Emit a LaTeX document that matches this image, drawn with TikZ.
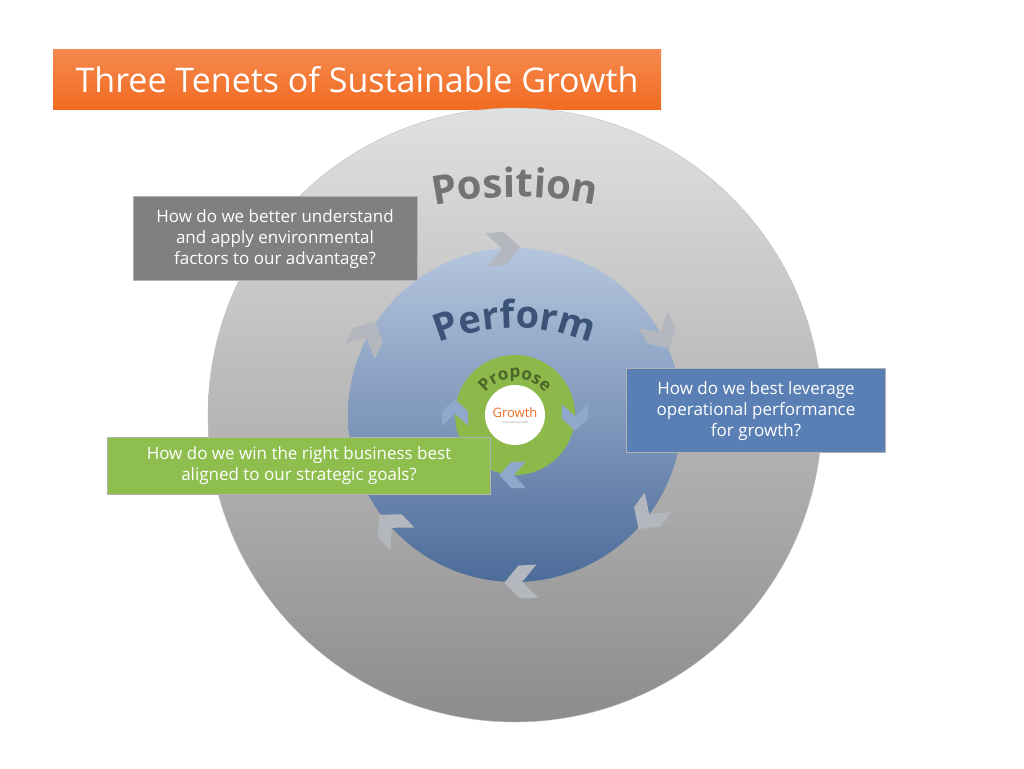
\documentclass[tikz,border=0pt]{standalone}
\usepackage{fontspec}
\setmainfont{Open Sans}
\usetikzlibrary{decorations.text,calc}
\definecolor{titleor}{HTML}{F26B21}
\definecolor{qgrey}{HTML}{808080}
\definecolor{qblue}{HTML}{5A7FB5}
\definecolor{qgreen}{HTML}{8DBE4E}
\definecolor{ringgreen}{HTML}{8CB94A}
\definecolor{chevgrey}{HTML}{B4B8BE}
\definecolor{chevblue}{HTML}{8FA8CC}
\tikzset{
  question/.style={draw=white!70!black, line width=1pt, text=white, align=center,
    font=\fontsize{17}{21}\selectfont, inner sep=0pt},
  arctext/.style={decorate, decoration={text along path, text align=center, text={#1}}},
  chev/.pic={\fill[pic actions] (-9,11) -- (3,11) -- (13,0) -- (3,-11) -- (-9,-11) -- (1,0) -- cycle;}
}
\begin{document}
\begin{tikzpicture}[x=1pt,y=1pt]
\useasboundingbox (0,0) rectangle (1024,768);
% title
\node[minimum width=608pt, minimum height=60pt, top color=titleor!80!white, bottom color=titleor,
  text=white, font=\fontsize{34}{40}\selectfont, inner sep=0pt] (title) at (357,688)
  {Three Tenets of Sustainable Growth};
% rings
\coordinate (c) at (515,353);
\shade[top color=white!88!black, bottom color=white!55!black, draw=white!75!black] (c) circle (307);
\shade[top color=qblue!45!white, bottom color=qblue!85!black] (c) circle (167);
\fill[ringgreen] (c) circle (60);
\fill[white] (c) circle (30);
% arc labels
\path[arctext={|\fontsize{40}{40}\selectfont\bfseries\color{black!55}|Position}] (515,171) ++(105:400) arc (105:75:400);
\path[arctext={|\fontsize{38}{38}\selectfont\bfseries\color{qblue!65!black}|Perform}] (515,240) ++(125:200) arc (125:55:200);
\path[arctext={|\fontsize{17}{17}\selectfont\bfseries\color{ringgreen!55!black}|Propose}] (c) ++(170:37) arc (170:10:37);
\node[text=titleor, font=\fontsize{13}{13}\selectfont] (growth) at (515,355) {Growth};
\node[text=black!40, font=\fontsize{3}{3}\selectfont] (sub) at (515,345) {sustainable growth};
% outer chevrons
\foreach \a in {95,30,-36,-87,-137,153}
  \pic[fill=chevgrey, scale=1.5, rotate=\a-90] at ($(c)+(\a:167)$) {chev};
% inner chevrons
\foreach \a in {180,0,-90}
  \pic[fill=chevblue, scale=1.2, rotate=\a-90] at ($(c)+(\a:60)$) {chev};
% questions
\node[question, fill=qgrey, minimum width=284pt, minimum height=84pt] (qpos) at (275,529)
  {How do we better understand\\and apply environmental\\factors to our advantage?};
\node[question, fill=qblue, minimum width=259pt, minimum height=84pt] (qperf) at (756,357)
  {How do we best leverage\\operational performance\\for growth?};
\node[question, fill=qgreen, minimum width=383pt, minimum height=57pt] (qprop) at (299,302)
  {How do we win the right business best\\aligned to our strategic goals?};
\end{tikzpicture}
\end{document}
